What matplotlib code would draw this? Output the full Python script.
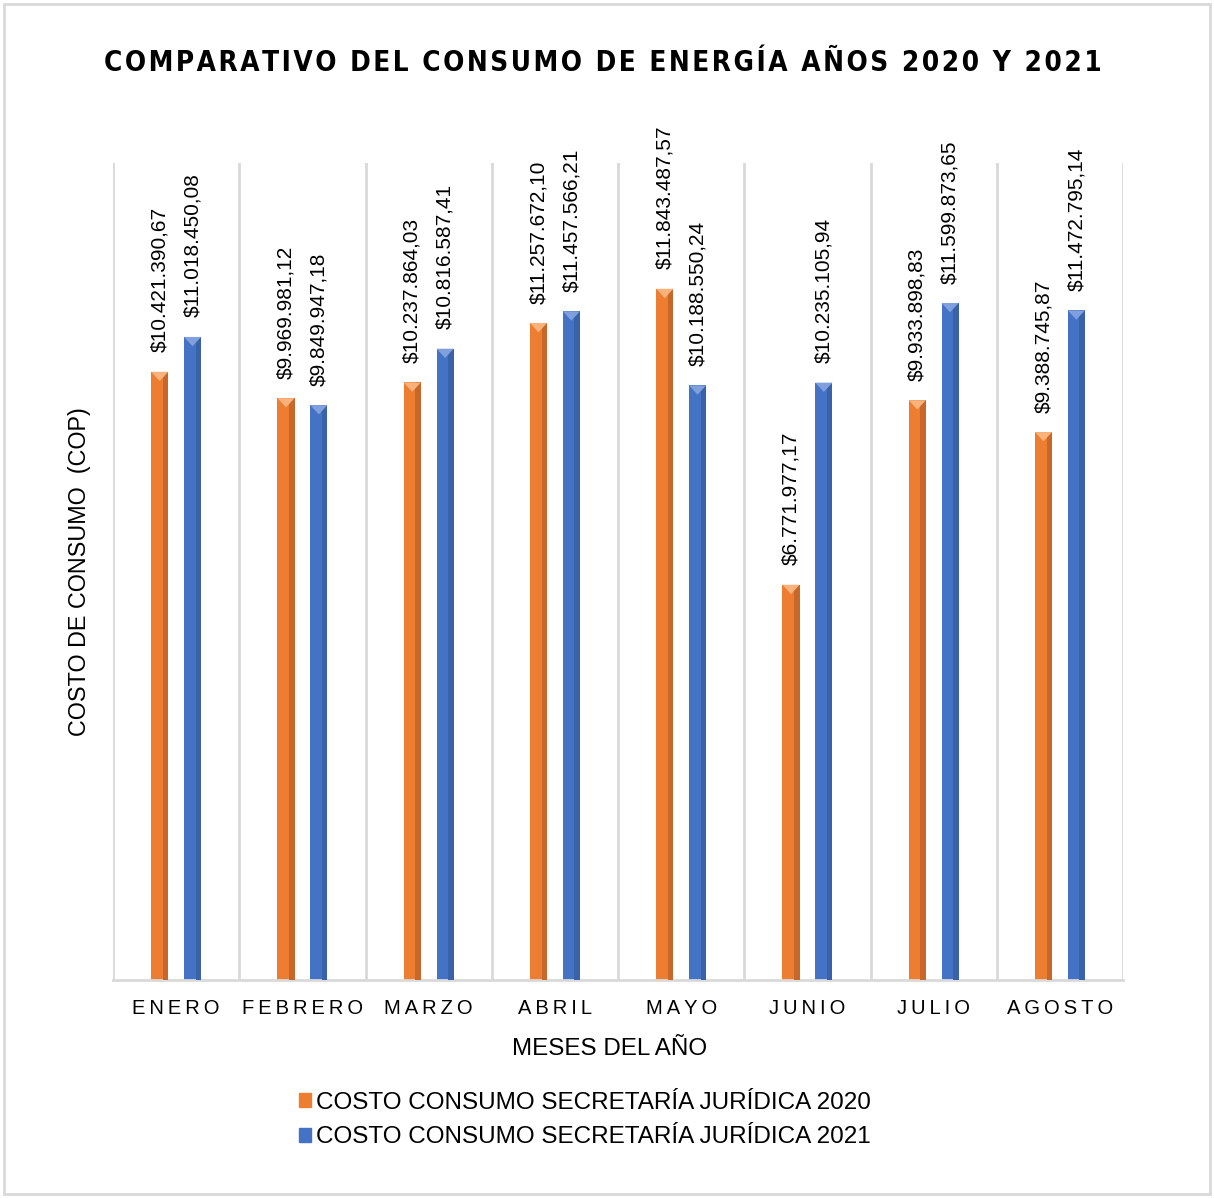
import numpy as np
import matplotlib
matplotlib.use("Agg")
import matplotlib.pyplot as plt
from matplotlib.patches import Rectangle, Polygon

plt.rcParams['font.family'] = ['Liberation Sans', 'DejaVu Sans']

meses = ['ENERO', 'FEBRERO', 'MARZO', 'ABRIL', 'MAYO', 'JUNIO', 'JULIO', 'AGOSTO']
costo_2020 = [10421390.67, 9969981.12, 10237864.03, 11257672.10,
              11843487.57, 6771977.17, 9933898.83, 9388745.87]
costo_2021 = [11018450.08, 9849947.18, 10816587.41, 11457566.21,
              10188550.24, 10235105.94, 11599873.65, 11472795.14]
serie_2020 = 'COSTO CONSUMO SECRETARÍA JURÍDICA 2020'
serie_2021 = 'COSTO CONSUMO SECRETARÍA JURÍDICA 2021'

naranja = '#ED7D31'
azul = '#4472C4'
gris = '#D9D9D9'


def formato_cop(v):
    s = f"{v:,.2f}"
    s = s.replace(',', 'X').replace('.', ',').replace('X', '.')
    return '$' + s


def espaciar(t, sep='\u2009'):
    return sep.join(t)


fig = plt.figure(figsize=(12.14, 11.98), dpi=100)
ax = fig.add_axes([0.0931, 0.182, 0.832, 0.682])

x = np.arange(len(meses))
ancho = 0.135
desp = 0.13

barras1 = ax.bar(x - desp, costo_2020, ancho, color=naranja, zorder=2)
barras2 = ax.bar(x + desp, costo_2021, ancho, color=azul, zorder=2)

# efecto biselado de excel
def bisel(barras, oscuro, claro):
    for r in barras:
        bx, bw, bh = r.get_x(), r.get_width(), r.get_height()
        ax.add_patch(Rectangle((bx + 0.68 * bw, 0), 0.32 * bw, bh,
                               color=oscuro, zorder=3, lw=0))
        ax.add_patch(Polygon([(bx, bh), (bx + bw, bh), (bx + bw / 2, bh - 0.16e6)],
                             closed=True, color=claro, zorder=4, lw=0))

bisel(barras1, '#C8672A', '#F9B27A')
bisel(barras2, '#3A62A8', '#7FA0DD')

for barras, vals in [(barras1, costo_2020), (barras2, costo_2021)]:
    for r, v in zip(barras, vals):
        ax.annotate(formato_cop(v), (r.get_x() + r.get_width() / 2, v),
                    xytext=(0, 14), textcoords='offset points',
                    rotation=90, ha='center', va='bottom', fontsize=15)

ax.set_xlim(-0.5, len(meses) - 0.5)
ax.set_ylim(0, 14e6)
for b in np.arange(-0.5, len(meses), 1.0):
    ax.axvline(b, color=gris, lw=2, zorder=1)
for s in ['top', 'right', 'left']:
    ax.spines[s].set_visible(False)
ax.spines['bottom'].set_color(gris)
ax.spines['bottom'].set_linewidth(2)
ax.set_yticks([])
ax.set_xticks(x)
ax.set_xticklabels([espaciar(m) for m in meses], fontsize=14.5)
ax.tick_params(axis='x', length=0, pad=14)
ax.set_xlabel('MESES DEL AÑO', fontsize=17.4)
ax.xaxis.set_label_coords(0.4916, -0.071)
ax.set_ylabel('COSTO DE CONSUMO  (COP)', fontsize=16.8, labelpad=16)

fig.text(0.497, 0.947, espaciar('COMPARATIVO DEL CONSUMO DE ENERGÍA AÑOS 2020 Y 2021', '\u200a'),
         ha='center', va='center', fontsize=20, fontweight='bold',
         family='DejaVu Sans', fontstretch='condensed')

handles = [Rectangle((0, 0), 1, 1, color=naranja), Rectangle((0, 0), 1, 1, color=azul)]
fig.legend(handles, [serie_2020, serie_2021], loc='center',
           bbox_to_anchor=(0.482, 0.065), frameon=False, fontsize=17.5,
           handlelength=0.5, handleheight=0.5, handletextpad=0.2, labelspacing=0.5)

fig.add_artist(Rectangle((0.003, 0.003), 0.994, 0.994, transform=fig.transFigure,
                         fill=False, edgecolor=gris, lw=2))

fig.savefig('out.png', dpi=100)
